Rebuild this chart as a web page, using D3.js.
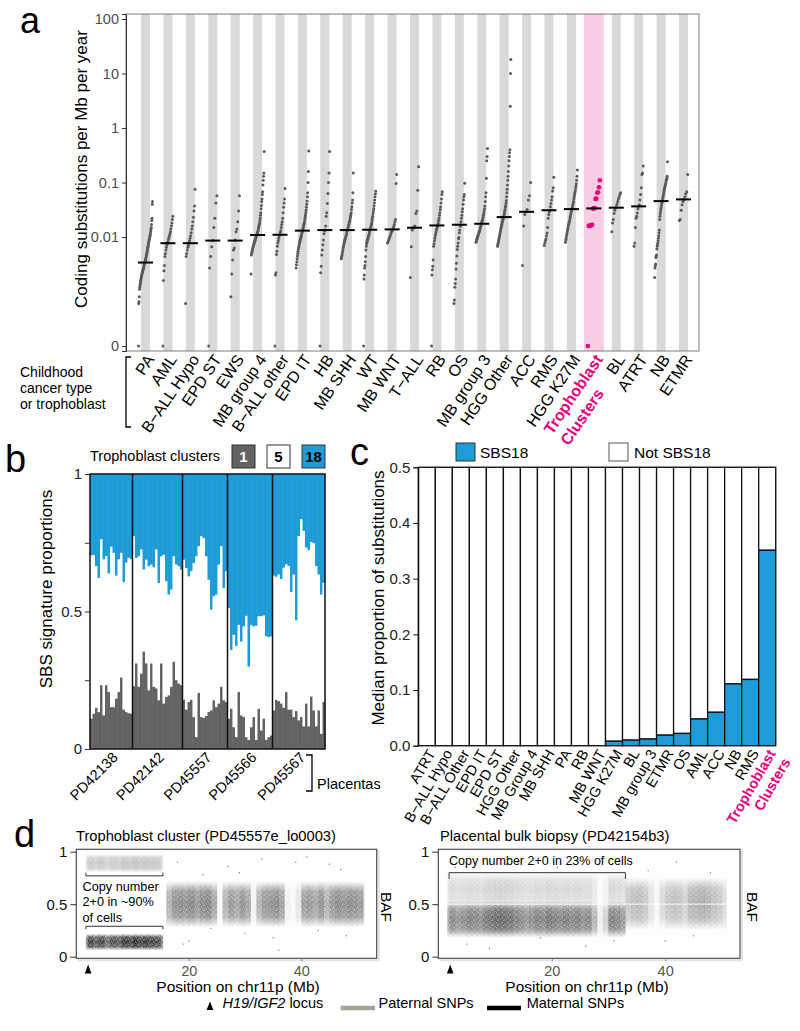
<!DOCTYPE html>
<html><head><meta charset="utf-8">
<script src="https://cdn.jsdelivr.net/npm/d3@7"></script>
<style>body{margin:0;background:#fff}</style>
</head><body>
<svg id="fig" width="800" height="1031"></svg>
<script>
// ================= DATA =================
// Panel a: coding substitutions per Mb per year
const cancerTypes = ["PA","AML","B\u2212ALL Hypo","EPD ST","EWS","MB group 4","B\u2212ALL other","EPD IT","HB","MB SHH","WT","MB WNT","T\u2212ALL","RB","OS","MB group 3","HGG Other","ACC","RMS","HGG K27M","Trophoblast Clusters","BL","ATRT","NB","ETMR"];
const medianRates = [0.0034,0.0077,0.0077,0.0086,0.0086,0.0109,0.011,0.0131,0.0134,0.0134,0.0136,0.0138,0.0148,0.0163,0.0168,0.0175,0.0232,0.029,0.031,0.0325,0.0335,0.0345,0.0365,0.0456,0.049];
const rateTicks = [100,10,1,0.1,0.01,0];
const rateTickLabels = ["100","10","1","0.1","0.01","0"];
const rPA = [0,0.0006,0.00065,0.0008,0.0011,0.0012,0.0013,0.0014,0.0015,0.0016,0.0017,0.0018,0.0019,0.002,0.0021,0.0022,0.0023,0.0024,0.0025,0.0026,0.0027,0.0028,0.003,0.0031,0.0033,0.0034,0.0035,0.0036,0.0038,0.004,0.0042,0.0045,0.0048,0.005,0.0053,0.0056,0.006,0.0064,0.0068,0.0072,0.0076,0.008,0.0085,0.009,0.0095,0.01,0.0105,0.011,0.012,0.013,0.014,0.015,0.017,0.02,0.022,0.04,0.045];
const rAML = [0,0.0016,0.0024,0.003,0.0044,0.005,0.0058,0.0065,0.0072,0.0077,0.0082,0.009,0.0098,0.0105,0.0115,0.0125,0.014,0.016,0.018,0.021,0.024];
const rBALLHypo = [0.0006,0.0044,0.005,0.0058,0.0065,0.007,0.0077,0.0085,0.0095,0.0105,0.012,0.014,0.016,0.019,0.023,0.03,0.037,0.075];
const rEPDST = [0,0.0027,0.0044,0.0066,0.0086,0.015,0.022,0.042,0.057];
const rEWS = [0.0008,0.0021,0.0038,0.0058,0.0063,0.0088,0.0125,0.014,0.019,0.03,0.057];
const rMBG4 = [0.0021,0.0047,0.005,0.0053,0.0056,0.006,0.0063,0.0066,0.007,0.0073,0.0076,0.008,0.0083,0.0087,0.009,0.0094,0.0098,0.0102,0.0106,0.011,0.0115,0.012,0.0126,0.013,0.014,0.015,0.016,0.017,0.018,0.02,0.022,0.025,0.028,0.033,0.038,0.045,0.05,0.06,0.068,0.09,0.11,0.13,0.15,0.37];
const rBALLOther = [0,0.002,0.0022,0.0048,0.0055,0.0068,0.0078,0.0085,0.0095,0.0105,0.011,0.012,0.013,0.015,0.017,0.019,0.022,0.028,0.035,0.042,0.05,0.078];
const rEPDIT = [0.0027,0.0031,0.0035,0.004,0.0045,0.005,0.0055,0.006,0.0065,0.007,0.0075,0.008,0.0085,0.009,0.0095,0.01,0.0105,0.011,0.012,0.0125,0.013,0.014,0.015,0.016,0.017,0.018,0.019,0.021,0.023,0.025,0.028,0.031,0.035,0.04,0.046,0.055,0.065,0.1,0.16,0.38];
const rHB = [0,0.0022,0.0029,0.0047,0.0058,0.0072,0.0088,0.0115,0.013,0.0135,0.016,0.024,0.028,0.041,0.063,0.1,0.15,0.37];
const rMBSHH = [0.004,0.0043,0.0046,0.005,0.0055,0.006,0.0065,0.007,0.0075,0.008,0.0085,0.009,0.0095,0.01,0.0105,0.011,0.012,0.013,0.0135,0.014,0.015,0.016,0.017,0.018,0.019,0.02,0.022,0.024,0.026,0.028,0.032,0.036,0.042,0.048,0.065,0.15];
const rWT = [0,0.0017,0.002,0.0027,0.003,0.0035,0.0044,0.0058,0.0068,0.0075,0.008,0.0085,0.009,0.0095,0.01,0.0105,0.011,0.012,0.013,0.0135,0.014,0.015,0.016,0.017,0.018,0.02,0.022,0.024,0.027,0.03,0.033,0.037,0.042,0.048,0.055,0.062,0.07];
const rMBWNT = [0.0078,0.0082,0.0088,0.0095,0.0102,0.011,0.012,0.0128,0.0135,0.0142,0.0155,0.017,0.019,0.021,0.096,0.14];
const rTALL = [0.0018,0.0066,0.0135,0.0145,0.0155,0.016,0.027,0.03,0.072,0.195];
const rRB = [0,0.002,0.0025,0.0029,0.0038,0.0068,0.0075,0.0085,0.0095,0.0105,0.0115,0.0125,0.0135,0.0145,0.0155,0.0165,0.018,0.02,0.022,0.025,0.028,0.032,0.036,0.042,0.05,0.06,0.068];
const rOS = [0.0006,0.0007,0.0012,0.0014,0.0017,0.0026,0.0033,0.0045,0.0059,0.0068,0.0078,0.0093,0.0098,0.012,0.0135,0.0157,0.0168,0.019,0.022,0.025,0.029,0.033,0.04,0.048,0.055,0.06,0.097];
const rMBG3 = [0.008,0.0085,0.009,0.0095,0.01,0.0105,0.011,0.0115,0.012,0.0125,0.013,0.014,0.015,0.016,0.017,0.018,0.019,0.02,0.021,0.023,0.025,0.027,0.03,0.033,0.037,0.045,0.055,0.065,0.12,0.25,0.3,0.42];
const rHGGOther = [0.0068,0.0072,0.0077,0.0082,0.0088,0.0094,0.01,0.0107,0.0115,0.0123,0.013,0.014,0.015,0.016,0.017,0.018,0.019,0.02,0.021,0.022,0.023,0.024,0.026,0.028,0.03,0.032,0.035,0.038,0.042,0.047,0.055,0.065,0.075,0.09,0.11,0.13,0.16,0.2,0.25,0.3,0.35,0.4,2.5,10,18];
const rACC = [0.003,0.016,0.026,0.029,0.032,0.048,0.057,0.1];
const rRMS = [0.007,0.0078,0.0085,0.0093,0.0105,0.0118,0.015,0.022,0.026,0.029,0.031,0.036,0.041,0.048,0.055,0.07,0.08,0.125];
const rHGGK27M = [0.008,0.0088,0.0095,0.0105,0.0115,0.0125,0.0135,0.0145,0.016,0.017,0.018,0.019,0.02,0.022,0.024,0.026,0.028,0.03,0.032,0.034,0.036,0.039,0.042,0.045,0.05,0.055,0.06,0.065,0.07,0.078,0.085,0.095,0.11,0.13,0.17];
const rTroph = [0,0.016,0.016,0.0163,0.0165,0.0168,0.033,0.0335,0.034,0.05,0.051,0.065,0.066,0.082,0.11];
const rBL = [0.0125,0.018,0.021,0.027,0.031,0.034,0.036,0.04,0.045,0.05,0.055,0.06,0.065];
const rATRT = [0.0068,0.0078,0.015,0.022,0.024,0.0275,0.033,0.0365,0.039,0.048,0.06,0.08,0.14,0.15,0.2];
const rNB = [0.0018,0.0027,0.003,0.0032,0.0042,0.0045,0.0047,0.006,0.0068,0.0072,0.0078,0.0085,0.0095,0.0105,0.012,0.0135,0.021,0.024,0.027,0.03,0.033,0.036,0.039,0.042,0.045,0.048,0.052,0.056,0.06,0.065,0.07,0.075,0.08,0.085,0.09,0.095,0.1,0.11,0.115,0.12,0.13,0.24];
const rETMR = [0.02,0.021,0.031,0.039,0.045,0.049,0.055,0.062,0.068,0.14];
const rateSeries = [rPA,rAML,rBALLHypo,rEPDST,rEWS,rMBG4,rBALLOther,rEPDIT,rHB,rMBSHH,rWT,rMBWNT,rTALL,rRB,rOS,rMBG3,rHGGOther,rACC,rRMS,rHGGK27M,rTroph,rBL,rATRT,rNB,rETMR];

// Panel b: SBS signature proportions per trophoblast cluster (SBS18 = remainder)
const placentas = ["PD42138","PD42142","PD45557","PD45566","PD45567"];
const sbs1_PD42138 = [0.110,0.128,0.150,0.134,0.232,0.122,0.232,0.207,0.152,0.152,0.183,0.207,0.26,0.143,0.134,0.130,0.128];
const sbs5_PD42138 = [0.594,0.576,0.515,0.488,0.530,0.567,0.469,0.431,0.583,0.561,0.447,0.482,0.453,0.463,0.543,0.565,0.562];
const sbs1_PD42142 = [0.228,0.311,0.226,0.274,0.354,0.311,0.213,0.311,0.226,0.22,0.177,0.311,0.165,0.189,0.195,0.226,0.317,0.25,0.238,0.232];
const sbs5_PD42142 = [0.545,0.383,0.474,0.451,0.298,0.377,0.451,0.359,0.434,0.505,0.426,0.389,0.541,0.42,0.366,0.353,0.383,0.42,0.426,0.42];
const sbs1_PD45557 = [0.179,0.143,0.171,0.179,0.116,0.043,0.204,0.116,0.113,0.12,0.135,0.14,0.177,0.152,0.165,0.226,0.177,0.171];
const sbs5_PD45557 = [0.509,0.515,0.456,0.467,0.56,0.657,0.533,0.657,0.654,0.58,0.48,0.366,0.378,0.409,0.505,0.511,0.408,0.475];
const sbs1_PD45566 = [0.11,0.146,0.079,0.043,0.207,0.122,0.116,0.043,0.033,0.079,0.116,0.033,0.146,0.067,0.11,0.033,0.043,0.049];
const sbs5_PD45566 = [0.402,0.214,0.336,0.331,0.244,0.268,0.329,0.441,0.266,0.372,0.329,0.415,0.336,0.415,0.375,0.376,0.363,0.36];
const sbs1_PD45567 = [0.14,0.179,0.174,0.165,0.15,0.207,0.143,0.143,0.116,0.138,0.104,0.116,0.082,0.165,0.082,0.191,0.14,0.082,0.14,0.055,0.171];
const sbs5_PD45567 = [0.49,0.447,0.46,0.453,0.509,0.464,0.522,0.427,0.518,0.329,0.67,0.719,0.711,0.567,0.641,0.561,0.608,0.583,0.494,0.506,0.433];
const sbs1Series = [sbs1_PD42138,sbs1_PD42142,sbs1_PD45557,sbs1_PD45566,sbs1_PD45567];
const sbs5Series = [sbs5_PD42138,sbs5_PD42142,sbs5_PD45557,sbs5_PD45566,sbs5_PD45567];
const legendB = ["1","5","18"];

// Panel c: median proportion of SBS18
const sbsTypes = ["ATRT","B\u2212ALL Hypo","B\u2212ALL Other","EPD IT","EPD ST","HGG Other","MB Group 4","MB SHH","PA","RB","MB WNT","HGG K27M","BL","MB group 3","ETMR","OS","AML","ACC","NB","RMS","Trophoblast Clusters"];
const sbs18Median = [0,0,0,0,0,0,0,0,0,0,0,0.008,0.010,0.012,0.019,0.022,0.048,0.060,0.111,0.119,0.351];
const propTicks = [0,0.1,0.2,0.3,0.4,0.5];

// Panel d: BAF along chr11p (SNP density per 1-Mb bin)
// segments: [startMb, endMb, bafLow, bafHigh, allele]
const leftSegments = [[1.7,15.4,0.80,0.98,"paternal"],[1.7,15.4,0.06,0.22,"maternal"],[16.0,51.2,0.28,0.72,"mixed"]];
const leftDensity = [0,0.5,0.9,0.8,0.9,0.7,0.85,0.8,0.95,0.9,1,0.9,0.95,0.9,0.85,0.6,0.6,0.85,0.9,0.85,0.95,0.8,0.9,0.95,0.7,0.05,0.6,0.8,0.7,0.85,0.7,0.1,0.6,0.8,0.85,0.9,0.75,0.1,0.05,0.2,0.75,0.8,0.7,0.85,0.6,0.8,0.9,0.85,0.9,0.85,0.8,0.3];
const leftOutliers = [[18,0.9],[22.5,0.78],[27,0.86],[33,0.93],[41,0.95],[45,0.88],[20,0.15],[30,0.22],[36,0.06],[48,0.2],[24,0.27],[43,0.25],[29,0.8],[47,0.83],[35,0.18],[19,0.12],[39,0.9]];
const rightSegments = [[1.6,33.0,0.47,0.80,"paternal"],[1.6,33.0,0.18,0.53,"maternal"],[33.0,50.8,0.25,0.76,"mixed"]];
const rightDensity = [0,0.6,0.8,0.7,0.75,0.85,0.8,0.75,0.9,0.95,1,1,0.95,0.85,0.8,0.7,0.75,0.85,0.8,0.9,0.85,0.8,0.85,0.8,0.85,0.75,0.8,0.5,0.1,0.3,0.85,0.8,0.7,0.6,0.7,0.75,0.6,0.3,0.1,0.4,0.6,0.7,0.65,0.5,0.8,0.85,0.9,0.85,0.7,0.6,0.4,0];
const rightOutliers = [[5,0.12],[9,0.08],[14,0.9],[21,0.85],[26,0.1],[31,0.15],[37,0.82],[42,0.9],[45,0.2],[12,0.88],[18,0.18],[48,0.8],[3,0.85],[40,0.15],[24,0.92]];
const locusMb = 2.1;

// ================= DRAWING =================
const FONT = "'Liberation Sans', Arial, Helvetica, sans-serif";
const PINK = "#e5007d", BLUE = "#1d9cd8", DGRAY = "#636363";
const svg = d3.select("#fig").style("font-family", FONT);
const defs = svg.append("defs");

function panelLetter(t, x, y, fs) {
  svg.append("text").attr("x", x).attr("y", y).attr("font-size", fs || 38).text(t);
}

// ---------- Panel a ----------
const TROPH = "Trophoblast Clusters";
const gA = svg.append("g");
const xA = d3.scalePoint().domain(cancerTypes).range([145.5, 683.5]);
const yA = d3.scaleLog().domain([8.1e-5, 123.6]).range([351, 14]);
const ZERO = 1e-4;
const yAv = v => yA(v > 0 ? v : ZERO);

gA.selectAll("rect.band").data(cancerTypes).join("rect")
  .attr("x", d => xA(d) - (d === TROPH ? 10 : 4.5))
  .attr("width", d => d === TROPH ? 20 : 9)
  .attr("y", 14).attr("height", 337)
  .attr("fill", d => d === TROPH ? "#f8cce2" : "#d9d9d9");

gA.append("rect").attr("x", 126).attr("y", 14).attr("width", 573).attr("height", 337)
  .attr("fill", "none").attr("stroke", "#7a7a7a").attr("stroke-width", 1);

const axA = gA.append("g").attr("transform", "translate(126,0)")
  .call(d3.axisLeft(yA).tickValues(rateTicks.map(v => v > 0 ? v : ZERO))
    .tickFormat((d, i) => rateTickLabels[i]).tickSize(4).tickPadding(3));
axA.select(".domain").attr("stroke", "#333");
axA.selectAll(".tick line").attr("stroke", "#333");
axA.selectAll(".tick text").attr("font-size", 14.5).attr("fill", "#4d4d4d").attr("font-family", FONT);

cancerTypes.forEach((cat, i) => {
  const vals = rateSeries[i].slice().sort((a, b) => a - b);
  const n = vals.length;
  const troph = cat === TROPH;
  const hw = troph ? 6 : Math.min(7, 3.5 + n * 0.07);
  const cx = xA(cat);
  gA.append("g").selectAll("circle").data(vals).join("circle")
    .attr("cx", (d, k) => cx + (n > 1 ? (k / (n - 1) - 0.5) * 2 * hw : 0))
    .attr("cy", d => yAv(d))
    .attr("r", troph ? 2.3 : 1.5)
    .attr("fill", troph ? PINK : "#5a5a5a");
  gA.append("line").attr("x1", cx - 7.5).attr("x2", cx + 7.5)
    .attr("y1", yA(medianRates[i])).attr("y2", yA(medianRates[i]))
    .attr("stroke", "#000").attr("stroke-width", 2);
});

// rotated category labels
cancerTypes.forEach(cat => {
  const g = gA.append("g").attr("transform", `translate(${xA(cat)},353) rotate(-56)`);
  if (cat === TROPH) {
    const parts = cat.split(" ");
    const t1 = g.append("text").attr("text-anchor", "end").attr("dy", "0.72em")
      .attr("font-size", 16).attr("font-weight", "bold").attr("fill", PINK).text(parts[0]);
    const len = t1.node().getComputedTextLength();
    g.append("text").attr("x", -len).attr("y", 20).attr("dy", "0.72em").attr("text-anchor", "start")
      .attr("font-size", 16).attr("font-weight", "bold").attr("fill", PINK).text(parts[1]);
  } else {
    g.append("text").attr("text-anchor", "end").attr("dy", "0.72em")
      .attr("font-size", 16).attr("fill", "#000").text(cat);
  }
});

gA.append("path").attr("d", "M131,357H126V427H131").attr("fill", "none").attr("stroke", "#000").attr("stroke-width", 1.3);
["Childhood", "cancer type", "or trophoblast"].forEach((t, i) =>
  gA.append("text").attr("x", 20).attr("y", 377 + i * 15.8).attr("font-size", 14).text(t));
gA.append("text").attr("transform", "translate(87,169) rotate(-90)").attr("text-anchor", "middle")
  .attr("font-size", 17).text("Coding substitutions per Mb per year");
panelLetter("a", 20, 33, 36);

// ---------- Panel b ----------
const gB = svg.append("g");
const barsB = [];
placentas.forEach((p, gi) => sbs1Series[gi].forEach((s1, k) =>
  barsB.push({ group: gi, s1: s1, s5: sbs5Series[gi][k] })));
const xB = d3.scaleBand().domain(d3.range(barsB.length)).range([90, 325]);
const yB = d3.scaleLinear().domain([0, 1]).range([749, 474]);
const bw = xB.bandwidth();
barsB.forEach((b, i) => {
  const x = xB(i);
  gB.append("rect").attr("x", x).attr("width", bw + 0.4).attr("y", yB(1)).attr("height", yB(b.s1 + b.s5) - yB(1)).attr("fill", BLUE);
  gB.append("rect").attr("x", x).attr("width", bw + 0.4).attr("y", yB(b.s1 + b.s5)).attr("height", yB(b.s1) - yB(b.s1 + b.s5)).attr("fill", "#fff");
  gB.append("rect").attr("x", x).attr("width", bw + 0.4).attr("y", yB(b.s1)).attr("height", yB(0) - yB(b.s1)).attr("fill", DGRAY);
});
let startIdx = 0;
const groupCenters = [];
placentas.forEach((p, gi) => {
  const n = sbs1Series[gi].length;
  const x0 = xB(startIdx), x1 = xB(startIdx + n - 1) + bw;
  groupCenters.push((x0 + x1) / 2);
  if (gi > 0) gB.append("line").attr("x1", x0).attr("x2", x0).attr("y1", yB(1)).attr("y2", yB(0)).attr("stroke", "#111").attr("stroke-width", 1.5);
  startIdx += n;
});
gB.append("rect").attr("x", 90).attr("y", yB(1)).attr("width", 235).attr("height", yB(0) - yB(1))
  .attr("fill", "none").attr("stroke", "#111").attr("stroke-width", 1.5);
const axB = gB.append("g").attr("transform", "translate(90,0)")
  .call(d3.axisLeft(yB).tickValues([0, 0.25, 0.5, 0.75, 1]).tickFormat(d => d === 0 ? "0" : d === 0.5 ? "0.5" : d === 1 ? "1" : "").tickSize(5).tickPadding(3));
axB.select(".domain").remove();
axB.selectAll(".tick line").attr("stroke", "#333");
axB.selectAll(".tick text").attr("font-size", 15).attr("fill", "#222").attr("font-family", FONT);
placentas.forEach((p, gi) => {
  gB.append("text").attr("transform", `translate(${groupCenters[gi]},751) rotate(-45)`)
    .attr("text-anchor", "end").attr("dy", "0.72em").attr("font-size", 14.5).text(p);
});
gB.append("path").attr("d", "M306,755H312V791H306").attr("fill", "none").attr("stroke", "#000").attr("stroke-width", 1.3);
gB.append("text").attr("x", 317).attr("y", 789).attr("font-size", 14.5).text("Placentas");
gB.append("text").attr("transform", "translate(52,589) rotate(-90)").attr("text-anchor", "middle")
  .attr("font-size", 17).text("SBS signature proportions");
gB.append("text").attr("x", 90).attr("y", 461).attr("font-size", 14.5).text("Trophoblast clusters");
const legFill = [DGRAY, "#fff", BLUE], legText = ["#fff", "#000", "#000"], legX = [232, 267, 302];
legendB.forEach((t, i) => {
  gB.append("rect").attr("x", legX[i]).attr("y", 445).attr("width", 23).attr("height", 23)
    .attr("fill", legFill[i]).attr("stroke", "#333").attr("stroke-width", 1);
  gB.append("text").attr("x", legX[i] + 11.5).attr("y", 462).attr("text-anchor", "middle")
    .attr("font-size", 15).attr("font-weight", "bold").attr("fill", legText[i]).text(t);
});
panelLetter("b", 5, 472);

// ---------- Panel c ----------
const gC = svg.append("g");
const xC = d3.scaleBand().domain(sbsTypes).range([418.3, 775.7]);
const yC = d3.scaleLinear().domain([0, 0.5]).range([745.7, 467.3]);
gC.append("rect").attr("x", 418.3).attr("y", 467.3).attr("width", 357.4).attr("height", 278.4)
  .attr("fill", "none").attr("stroke", "#888").attr("stroke-width", 1);
sbsTypes.forEach((t, i) => {
  const x = xC(t), w = xC.bandwidth(), v = sbs18Median[i];
  gC.append("rect").attr("x", x).attr("width", w).attr("y", yC(0.5)).attr("height", yC(v) - yC(0.5))
    .attr("fill", "#fff").attr("stroke", "#111").attr("stroke-width", 1.3);
  if (v > 0) gC.append("rect").attr("x", x).attr("width", w).attr("y", yC(v)).attr("height", yC(0) - yC(v))
    .attr("fill", BLUE).attr("stroke", "#111").attr("stroke-width", 1.3);
});
const axC = gC.append("g").attr("transform", "translate(418.3,0)")
  .call(d3.axisLeft(yC).tickValues(propTicks).tickFormat(d3.format(".1f")).tickSize(5).tickPadding(3));
axC.select(".domain").attr("stroke", "#111");
axC.selectAll(".tick line").attr("stroke", "#111");
axC.selectAll(".tick text").attr("font-size", 15).attr("fill", "#222").attr("font-family", FONT);
sbsTypes.forEach(t => {
  const g = gC.append("g").attr("transform", `translate(${xC(t) + xC.bandwidth() / 2},748) rotate(-60)`);
  if (t === TROPH) {
    const parts = t.split(" ");
    g.append("text").attr("text-anchor", "end").attr("dy", "0.72em").attr("font-size", 14.5)
      .attr("font-weight", "bold").attr("fill", PINK).text(parts[0]);
    g.append("text").attr("text-anchor", "end").attr("y", 17).attr("dy", "0.72em").attr("font-size", 14.5)
      .attr("font-weight", "bold").attr("fill", PINK).text(parts[1]);
  } else {
    g.append("text").attr("text-anchor", "end").attr("dy", "0.72em").attr("font-size", 14.5).text(t);
  }
});
gC.append("text").attr("transform", "translate(384,598) rotate(-90)").attr("text-anchor", "middle")
  .attr("font-size", 17).text("Median proportion of substitutions");
gC.append("rect").attr("x", 456).attr("y", 443).attr("width", 19).attr("height", 18).attr("fill", BLUE).attr("stroke", "#333");
gC.append("text").attr("x", 480).attr("y", 457.5).attr("font-size", 15.5).text("SBS18");
gC.append("rect").attr("x", 609).attr("y", 443).attr("width", 19).attr("height", 18).attr("fill", "#fff").attr("stroke", "#555");
gC.append("text").attr("x", 634).attr("y", 457.5).attr("font-size", 15.5).text("Not SBS18");
panelLetter("c", 350, 465);

// ---------- Panel d ----------
const alleleColor = { paternal: "#a9a9a9", maternal: "#0d0d0d", mixed: "#5e5e5e" };
Object.entries(alleleColor).forEach(([k, c]) => {
  const lg = defs.append("linearGradient").attr("id", "grad-" + k).attr("x1", 0).attr("y1", 0).attr("x2", 0).attr("y2", 1);
  [[0, 0], [0.22, 0.85], [0.5, 1], [0.78, 0.85], [1, 0]].forEach(([o, a]) =>
    lg.append("stop").attr("offset", o).attr("stop-color", c).attr("stop-opacity", a));
});
const pat = defs.append("pattern").attr("id", "stip").attr("patternUnits", "userSpaceOnUse").attr("width", 6).attr("height", 5);
[[0.4, 0.3], [3.1, 1.2], [1.5, 2.7], [4.5, 3.5], [2.3, 4.3], [5.2, 0.1], [0.2, 3.8], [3.9, 2.1]].forEach(([x, y]) =>
  pat.append("rect").attr("x", x).attr("y", y).attr("width", 0.9).attr("height", 0.9).attr("fill", "#fff").attr("opacity", 0.55));

function drawBAF(opts) {
  const { x0, x1, maxMb, segments, density, outliers, title, titleX, centerLine, labelX, bafX, alpha } = opts;
  const g = svg.append("g");
  const x = d3.scaleLinear().domain([0, maxMb]).range([x0, x1]);
  const y = d3.scaleLinear().domain([0, 1]).range([956.7, 851.7]);
  g.append("rect").attr("x", x0 + 2).attr("y", 851.3).attr("width", x1 - x0).attr("height", 109).attr("fill", "none").attr("stroke", "#e3e3e3").attr("stroke-width", 2);
  g.append("rect").attr("x", x0).attr("y", 849.3).attr("width", x1 - x0).attr("height", 109).attr("fill", "#fff");
  segments.forEach(([s, e, lo, hi, al]) => {
    density.forEach((dv, mb) => {
      const a = Math.max(s, mb), b = Math.min(e, mb + 1);
      if (b <= a || dv <= 0) return;
      g.append("rect").attr("x", x(a)).attr("width", x(b) - x(a) + 0.2).attr("y", y(hi)).attr("height", y(lo) - y(hi))
        .attr("fill", `url(#grad-${al})`).attr("opacity", dv * alpha[al]);
    });
  });
  const sEnd = d3.max(segments, d => d[1]), sStart = d3.min(segments, d => d[0]);
  g.append("rect").attr("x", x(sStart)).attr("width", x(sEnd) - x(sStart)).attr("y", y(0.99)).attr("height", y(0.03) - y(0.99)).attr("fill", "url(#stip)");
  if (centerLine) g.append("line").attr("x1", x(sStart)).attr("x2", x(sEnd)).attr("y1", y(0.5)).attr("y2", y(0.5)).attr("stroke", "#fff").attr("stroke-width", 1.2).attr("opacity", 0.75);
  g.selectAll("circle.o").data(outliers).join("circle").attr("cx", d => x(d[0])).attr("cy", d => y(d[1])).attr("r", 0.7).attr("fill", "#777");
  g.append("rect").attr("x", x0).attr("y", 849.3).attr("width", x1 - x0).attr("height", 109).attr("fill", "none").attr("stroke", "#4d4d4d").attr("stroke-width", 1.2);
  const ay = g.append("g").attr("transform", `translate(${x0},0)`)
    .call(d3.axisLeft(y).tickValues([0, 0.5, 1]).tickFormat(d => d === 0.5 ? "0.5" : String(d)).tickSize(6).tickPadding(3));
  ay.select(".domain").remove();
  ay.selectAll(".tick line").attr("stroke", "#333");
  ay.selectAll(".tick text").attr("font-size", 15).attr("fill", "#111").attr("font-family", FONT);
  const ax = g.append("g").attr("transform", "translate(0,958.3)")
    .call(d3.axisBottom(x).tickValues([20, 40]).tickSize(3).tickPadding(4));
  ax.select(".domain").remove();
  ax.selectAll(".tick line").attr("stroke", "#888");
  ax.selectAll(".tick text").attr("font-size", 14.5).attr("fill", "#555").attr("font-family", FONT);
  g.append("text").attr("x", labelX).attr("y", 992).attr("text-anchor", "middle").attr("font-size", 15.5).text("Position on chr11p (Mb)");
  g.append("text").attr("transform", `translate(${bafX},907) rotate(90)`).attr("text-anchor", "middle").attr("font-size", 15.5).text("BAF");
  g.append("text").attr("x", titleX).attr("y", 841).attr("font-size", 14.7).text(title);
  const lx = x(locusMb);
  g.append("path").attr("d", `M${lx},964.5L${lx - 3.3},973.5L${lx + 3.3},973.5Z`).attr("fill", "#000");
  return { x, y, g };
}

const dL = drawBAF({ x0: 76.3, x1: 376.7, maxMb: 53.4, segments: leftSegments, density: leftDensity, outliers: leftOutliers,
  title: "Trophoblast cluster (PD45557e_lo0003)", titleX: 76, centerLine: false, labelX: 238, bafX: 381,
  alpha: { paternal: 0.75, maternal: 0.9, mixed: 0.85 } });
dL.g.append("path").attr("d", `M${dL.x(1.7)},${dL.y(0.8)}V${dL.y(0.77)}H${dL.x(15.4)}V${dL.y(0.8)}`).attr("fill", "none").attr("stroke", "#333").attr("stroke-width", 1);
dL.g.append("path").attr("d", `M${dL.x(1.7)},${dL.y(0.26)}V${dL.y(0.29)}H${dL.x(15.4)}V${dL.y(0.26)}`).attr("fill", "none").attr("stroke", "#333").attr("stroke-width", 1);
["Copy number", "2+0 in ~90%", "of cells"].forEach((t, i) =>
  dL.g.append("text").attr("x", 82.5).attr("y", 890.5 + i * 15.5).attr("font-size", 12.7).text(t));

const dR = drawBAF({ x0: 438.3, x1: 740, maxMb: 53.2, segments: rightSegments, density: rightDensity, outliers: rightOutliers,
  title: "Placental bulk biopsy (PD42154b3)", titleX: 440, centerLine: true, labelX: 587, bafX: 747,
  alpha: { paternal: 0.55, maternal: 0.65, mixed: 0.6 } });
dR.g.append("path").attr("d", `M${dR.x(1.9)},${dR.y(0.74)}V${dR.y(0.8)}H${dR.x(33)}V${dR.y(0.74)}`).attr("fill", "none").attr("stroke", "#333").attr("stroke-width", 1);
dR.g.append("text").attr("x", 449).attr("y", 865).attr("font-size", 12.5).text("Copy number 2+0 in 23% of cells");
panelLetter("d", 14, 847);

// legend row
const gL = svg.append("g");
gL.append("path").attr("d", "M210,1001.5L206.6,1010L213.4,1010Z").attr("fill", "#000");
const lt = gL.append("text").attr("x", 222.5).attr("y", 1008.3).attr("font-size", 14.5);
lt.append("tspan").attr("font-style", "italic").text("H19/IGF2");
lt.append("tspan").text(" locus");
gL.append("line").attr("x1", 340.7).attr("x2", 375).attr("y1", 1008).attr("y2", 1008).attr("stroke", "#a3a39c").attr("stroke-width", 4.5);
gL.append("text").attr("x", 378.5).attr("y", 1008.3).attr("font-size", 14.5).text("Paternal SNPs");
gL.append("line").attr("x1", 487).attr("x2", 521).attr("y1", 1008).attr("y2", 1008).attr("stroke", "#000").attr("stroke-width", 4.5);
gL.append("text").attr("x", 526.7).attr("y", 1008.3).attr("font-size", 14.5).text("Maternal SNPs");
</script>
</body></html>
